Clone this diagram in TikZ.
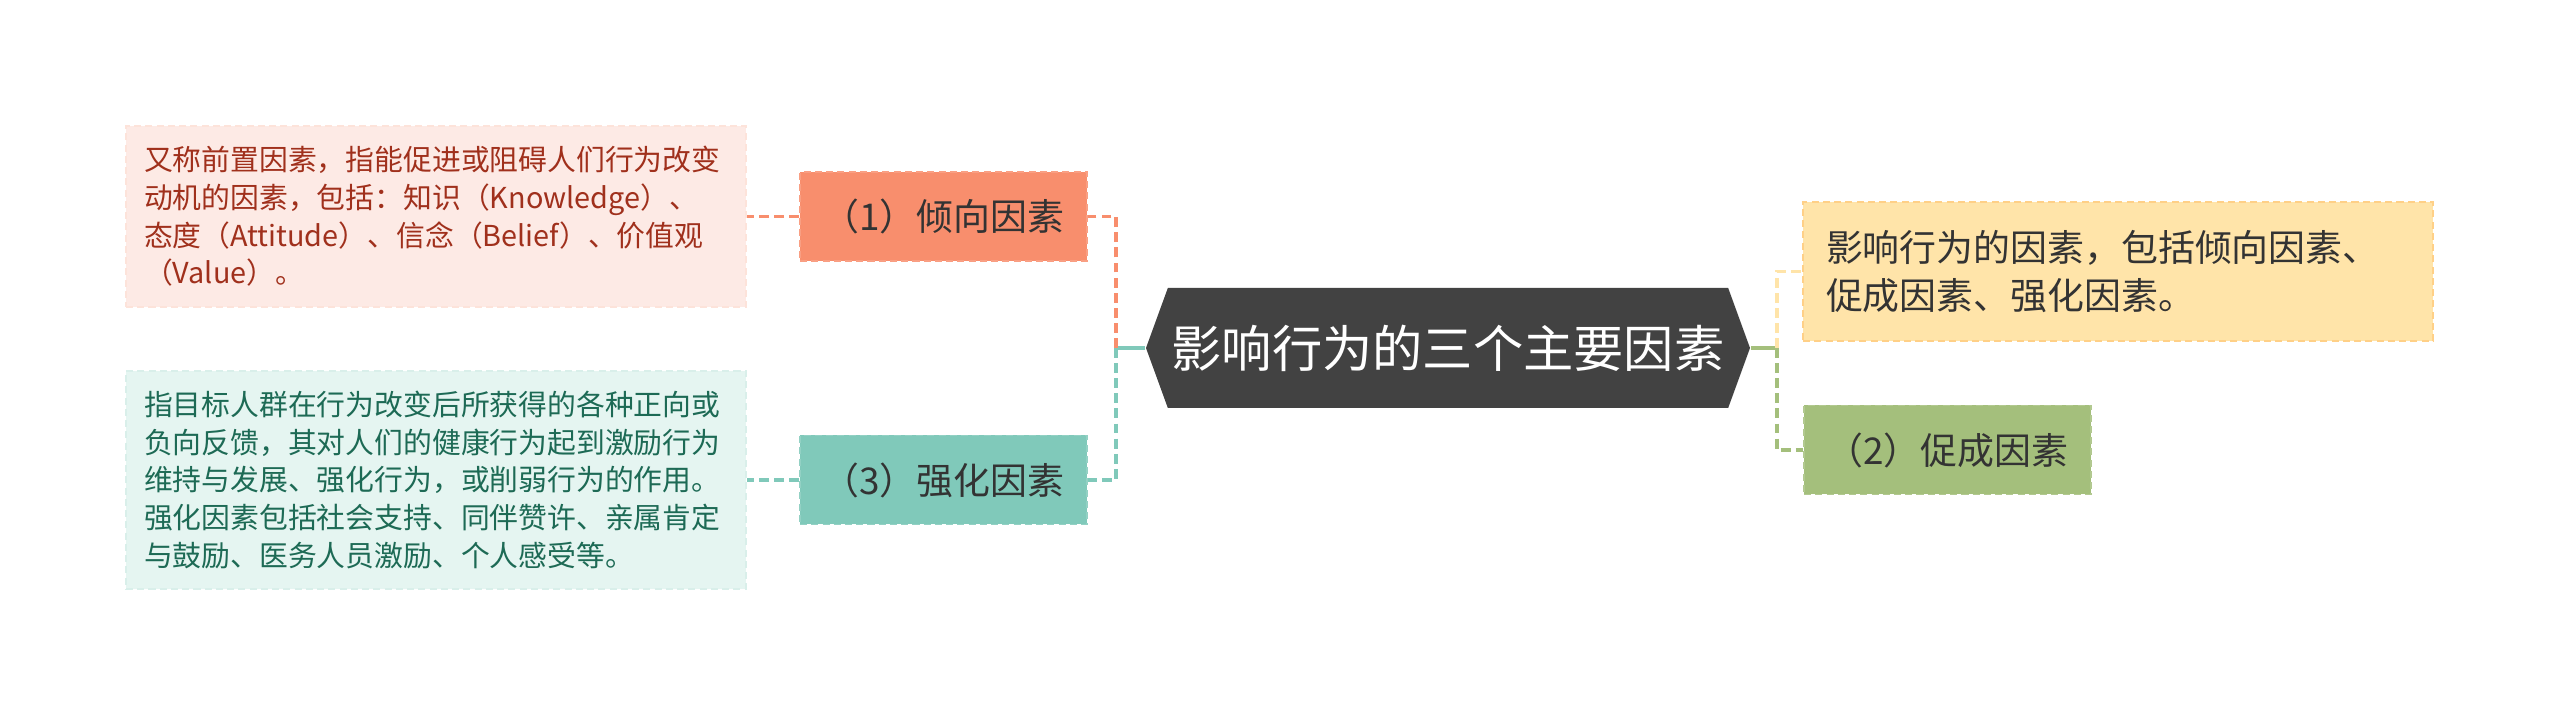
\documentclass[tikz,border=0pt]{standalone}
\usepackage{fontspec}
\setmainfont{Noto Sans CJK SC}
\usetikzlibrary{shapes.symbols}

\definecolor{qxgray}{HTML}{424242}
\definecolor{qxorange}{HTML}{F88E6D}
\definecolor{qxpink}{HTML}{FDEAE5}
\definecolor{qxred}{HTML}{A0301C}
\definecolor{qxteal}{HTML}{80C9BA}
\definecolor{qxmint}{HTML}{E5F5F1}
\definecolor{qxgreenink}{HTML}{1D6A55}
\definecolor{qxyellow}{HTML}{FFE4A9}
\definecolor{qxgreen}{HTML}{A4BF7C}
\definecolor{qxink}{HTML}{333333}

\begin{document}
\begin{tikzpicture}
			\tikzstyle{root}   = [signal, signal to=west and east, signal pointer angle=140, fill=qxgray, text=white, minimum width=6.04cm, minimum height=1.2cm, inner sep=0pt, font={\fontsize{14.3pt}{16pt}\selectfont}]
			\tikzstyle{factor} = [rectangle, minimum width=2.87cm, minimum height=0.89cm, inner sep=0pt, text=qxink, dashed, dash pattern=on 2pt off 1.2pt, line width=0.4pt, font={\fontsize{10.5pt}{12pt}\selectfont}]
			\tikzstyle{note}   = [rectangle, minimum width=6.2cm, text width=5.84cm, inner sep=0pt, align=left, dashed, dash pattern=on 2pt off 1.2pt, line width=0.4pt]
			\tikzstyle{trunk}  = [line width=1.1pt]
			\tikzstyle{link}   = [line width=1.1pt, dash pattern=on 2.8pt off 1.5pt]

			\useasboundingbox (0,0) rectangle (25.6,-7.17);
			\fill[white] (0,0) rectangle (25.6,-7.17);

			\node[root] (root) at (14.48,-3.48) {影响行为的三个主要因素};

			\foreach \name/\x/\y/\col/\text in {f1/9.435/-2.165/qxorange/（1）倾向因素, f3/9.435/-4.80/qxteal/（3）强化因素, f2/19.475/-4.50/qxgreen/（2）促成因素}
				\node[factor, fill=\col, draw=\col!85!white] (\name) at (\x, \y) {\text};

			\node[note, fill=qxpink, draw=qxorange!25!white, text=qxred, minimum height=1.81cm, font={\fontsize{8.2pt}{10.7pt}\selectfont}] (d1) at (4.36,-2.165)
				{又称前置因素，指能促进或阻碍人们行为改变\\动机的因素，包括：知识（Knowledge）、\\态度（Attitude）、信念（Belief）、价值观\\（Value）。};
			\node[note, fill=qxmint, draw=qxteal!30!white, text=qxgreenink, minimum height=2.18cm, font={\fontsize{8.2pt}{10.8pt}\selectfont}] (d3) at (4.36,-4.80)
				{指目标人群在行为改变后所获得的各种正向或\\负向反馈，其对人们的健康行为起到激励行为\\维持与发展、强化行为，或削弱行为的作用。\\强化因素包括社会支持、同伴赞许、亲属肯定\\与鼓励、医务人员激励、个人感受等。};
			\node[note, fill=qxyellow, draw=qxyellow!80!orange, text=qxink, minimum width=6.3cm, minimum height=1.39cm, font={\fontsize{10.5pt}{13.9pt}\selectfont}] (d0) at (21.18,-2.715)
				{影响行为的因素，包括倾向因素、\\促成因素、强化因素。};

			\coordinate (lj) at (11.16,-3.48);
			\coordinate (rj) at (17.77,-3.48);
			\draw[trunk, qxteal] (root.west) -- (lj);
			\draw[trunk, qxgreen] (root.east) -- (rj);

			\foreach \to/\col in {f1/qxorange, f3/qxteal}
				\draw[link, \col] (lj) |- (\to.east);
			\foreach \to/\col in {d0/qxyellow, f2/qxgreen}
				\draw[link, \col] (rj) |- (\to.west);
			\foreach \from/\to/\col in {f1/d1/qxorange, f3/d3/qxteal}
				\draw[link, \col] (\from.west) -- (\to.east);

		\end{tikzpicture}
\end{document}
